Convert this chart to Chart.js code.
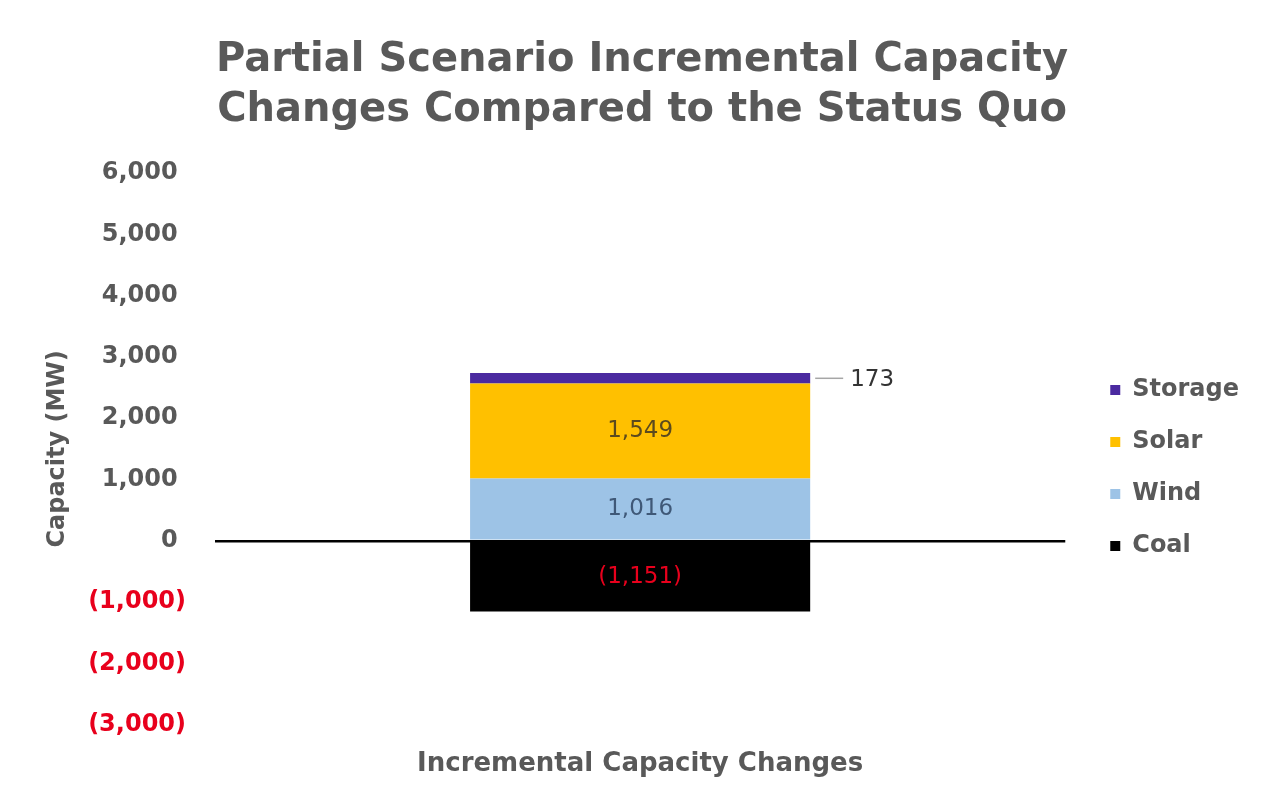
<!DOCTYPE html>
<html>
<head>
<meta charset="utf-8">
<script src="https://cdn.jsdelivr.net/npm/chart.js@4.4.1/dist/chart.umd.min.js"></script>
<style>
  html, body { margin: 0; padding: 0; background: #fff; }
  #wrap { width: 1275px; height: 790px; }
</style>
</head>
<body>
<div id="wrap"><canvas id="capacity"></canvas></div>
<script>
const categories = ['Partial Scenario'];
const seriesNames = ['Coal', 'Wind', 'Solar', 'Storage'];
const coalValues = [-1151];
const windValues = [1016];
const solarValues = [1549];
const storageValues = [173];
const yMin = -3000;
const yMax = 6000;
const yStep = 1000;

const seriesColors = ['#000000', '#9dc3e6', '#ffc000', '#4b2aa0'];
const labelColors = ['#e8001c', '#3f5877', '#5b4a1e', '#333333'];
const gray = '#595959';
const fontFamily = '"DejaVu Sans", Arial, sans-serif';

function fmt(v) {
    return Math.abs(v).toLocaleString('en-US');
}

function tickText(v) {
    return v < 0 ? '(' + fmt(v) + ')' : fmt(v) + ' ';
}

const barLabels = {
    id: 'barLabels',
    afterDatasetsDraw(chart) {
        const ctx = chart.ctx;
        chart.data.datasets.forEach((ds, i) => {
            const meta = chart.getDatasetMeta(i);
            meta.data.forEach((bar, j) => {
                const v = ds.data[j];
                const txt = v < 0 ? '(' + fmt(v) + ')' : fmt(v);
                const y = (bar.y + bar.base) / 2;
                ctx.save();
                ctx.font = '23px ' + fontFamily;
                ctx.fillStyle = labelColors[i];
                ctx.textBaseline = 'middle';
                if (ds.label === 'Storage') {
                    const right = bar.x + bar.width / 2;
                    ctx.strokeStyle = '#a6a6a6';
                    ctx.lineWidth = 1.5;
                    ctx.beginPath();
                    ctx.moveTo(right + 5, y);
                    ctx.lineTo(right + 33, y);
                    ctx.stroke();
                    ctx.textAlign = 'left';
                    ctx.fillText(txt, right + 40, y + 2);
                } else {
                    ctx.textAlign = 'center';
                    ctx.fillText(txt, bar.x, y);
                }
                ctx.restore();
            });
        });
    }
};

const data = {
    labels: categories,
    datasets: [
        { label: seriesNames[0], data: coalValues, backgroundColor: seriesColors[0] },
        { label: seriesNames[1], data: windValues, backgroundColor: seriesColors[1] },
        { label: seriesNames[2], data: solarValues, backgroundColor: seriesColors[2] },
        { label: seriesNames[3], data: storageValues, backgroundColor: seriesColors[3] }
    ]
};

const config = {
    type: 'bar',
    data: data,
    plugins: [barLabels],
    options: {
        responsive: true,
        maintainAspectRatio: false,
        animation: false,
        layout: {
            padding: { top: 23, left: 35, right: 26, bottom: 6 }
        },
        datasets: {
            bar: {
                borderWidth: 0,
                categoryPercentage: 1,
                barPercentage: 0.4
            }
        },
        plugins: {
            title: {
                display: true,
                text: ['Partial Scenario Incremental Capacity', 'Changes Compared to the Status Quo'],
                color: gray,
                font: { family: fontFamily, size: 40, weight: 'bold', lineHeight: 1.25 },
                padding: { top: 13, bottom: 37 }
            },
            legend: {
                position: 'right',
                reverse: true,
                title: {
                    display: true,
                    text: ' ',
                    font: { family: fontFamily, size: 24 },
                    padding: { top: 0, bottom: 100 }
                },
                labels: {
                    boxWidth: 10,
                    boxHeight: 10,
                    padding: 28,
                    color: gray,
                    font: { family: fontFamily, size: 24, weight: 'bold' }
                }
            },
            tooltip: { enabled: false }
        },
        scales: {
            x: {
                stacked: true,
                grid: { display: false },
                border: { display: false },
                ticks: { display: false },
                title: {
                    display: true,
                    text: 'Incremental Capacity Changes',
                    color: gray,
                    font: { family: fontFamily, size: 26, weight: 'bold' },
                    padding: { top: 16, bottom: 4 }
                }
            },
            y: {
                stacked: true,
                min: yMin,
                max: yMax,
                border: { display: false },
                grid: {
                    drawTicks: false,
                    color: (c) => c.tick && c.tick.value === 0 ? '#000000' : 'rgba(0,0,0,0)',
                    lineWidth: (c) => c.tick && c.tick.value === 0 ? 2.5 : 0
                },
                ticks: {
                    stepSize: yStep,
                    padding: 29,
                    color: (c) => c.tick && c.tick.value < 0 ? '#e8001c' : gray,
                    font: { family: fontFamily, size: 24, weight: 'bold' },
                    callback: (v) => tickText(v)
                },
                title: {
                    display: true,
                    text: 'Capacity (MW)',
                    color: gray,
                    font: { family: fontFamily, size: 24, weight: 'bold' },
                    padding: { top: 8, bottom: 0 }
                },
                afterFit(s) { s.width = 180; }
            },
            yRight: {
                position: 'right',
                display: true,
                grid: { display: false },
                border: { display: false },
                ticks: { display: false },
                afterFit(s) { s.width = 17; }
            }
        }
    }
};

new Chart(document.getElementById('capacity').getContext('2d'), config);
</script>
</body>
</html>
